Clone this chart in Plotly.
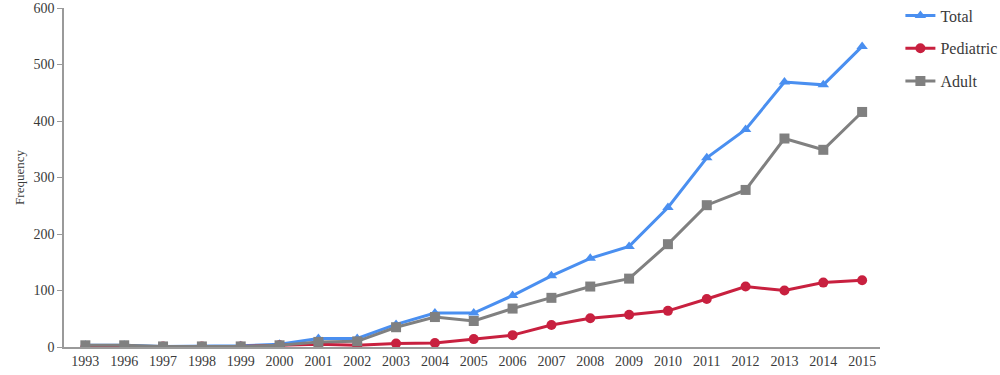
import plotly.graph_objects as go

years = ["1993", "1996", "1997", "1998", "1999", "2000", "2001", "2002", "2003", "2004", "2005",
         "2006", "2007", "2008", "2009", "2010", "2011", "2012", "2013", "2014", "2015"]
total = [3, 3, 1, 1, 2, 5, 15, 15, 40, 60, 60, 91, 126, 157, 178, 247, 335, 385, 469, 464, 532]
pediatric = [0, 0, 1, 1, 1, 3, 5, 3, 6, 7, 14, 21, 39, 51, 57, 64, 85, 107, 100, 114, 118]
adult = [3, 3, 1, 1, 1, 3, 9, 10, 35, 53, 46, 68, 87, 107, 121, 182, 251, 278, 369, 349, 416]

font = "Liberation Serif"
txt = "#3a3a3a"

fig = go.Figure()
fig.add_trace(go.Scatter(x=years, y=total, name="Total", mode="lines+markers", legendgroup="a",
                         line=dict(color="#4a8ff0", width=3),
                         marker=dict(symbol="triangle-up", size=10, color="#4a8ff0")))
fig.add_trace(go.Scatter(x=years, y=pediatric, name="Pediatric", mode="lines+markers", legendgroup="b",
                         line=dict(color="#c8203f", width=3),
                         marker=dict(symbol="circle", size=10, color="#c8203f")))
fig.add_trace(go.Scatter(x=years, y=adult, name="Adult", mode="lines+markers", legendgroup="c",
                         line=dict(color="#808080", width=3),
                         marker=dict(symbol="square", size=10, color="#808080")))

fig.update_layout(
    width=1000, height=375,
    margin=dict(l=64, r=120, t=8, b=28, autoexpand=False),
    plot_bgcolor="white", paper_bgcolor="white",
    font=dict(family=font, size=14, color=txt),
    showlegend=True,
    legend=dict(x=1.025, y=1.028, xanchor="left", yanchor="top",
                font=dict(family=font, size=16, color=txt),
                itemwidth=30, traceorder="grouped", tracegroupgap=9),
    xaxis=dict(type="category", range=[-0.55, 20.46], showgrid=False, showline=True,
               linecolor="#9a9a9a", linewidth=1.5, ticks="", tickfont=dict(size=14),
               zeroline=False),
    yaxis=dict(range=[0, 600], dtick=100, showgrid=False, showline=True,
               linecolor="#9a9a9a", linewidth=1.5, ticks="outside", ticklen=5,
               tickcolor="#9a9a9a", zeroline=False, tickfont=dict(size=14),
               title=dict(text="Frequency", font=dict(size=13), standoff=6)),
)

fig.write_html("out.html", config={"displayModeBar": False},
               post_script="document.body.style.margin='0';")
